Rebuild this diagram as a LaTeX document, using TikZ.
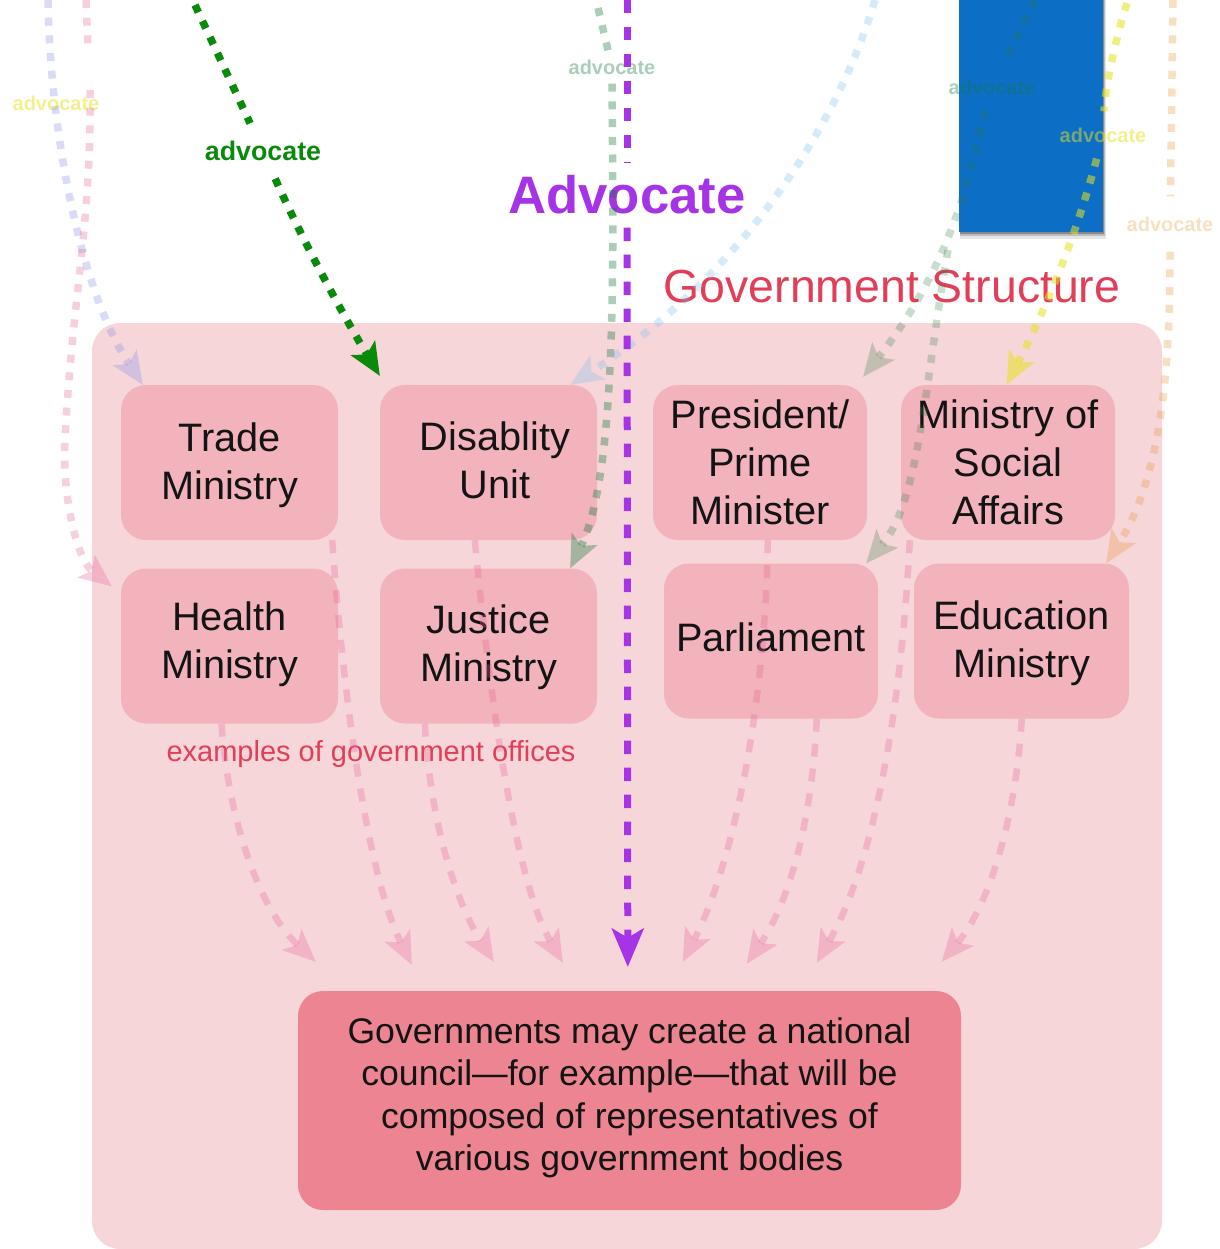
\documentclass[tikz,border=0pt]{standalone}
\usepackage{fontspec}
\setmainfont{Liberation Sans}
\usetikzlibrary{arrows.meta}
\definecolor{panelc}{HTML}{F7D6DA}
\definecolor{boxc}{HTML}{F2B3BC}
\definecolor{councilc}{HTML}{EC8591}
\definecolor{bluec}{HTML}{0D6EC6}
\definecolor{redtext}{HTML}{E23E57}
\definecolor{greenc}{HTML}{0A8A0A}
\definecolor{purplec}{HTML}{A633E6}
\definecolor{lavc}{RGB}{146,152,233}
\definecolor{pinkc}{RGB}{230,100,150}
\definecolor{sagec}{RGB}{20,120,60}
\definecolor{paleg}{RGB}{40,120,60}
\definecolor{skyc}{RGB}{120,190,235}
\definecolor{yellc}{RGB}{230,225,30}
\definecolor{peachc}{RGB}{230,150,50}
\newcommand{\lines}[2][0pt]{\vbox{\vskip#1\hbox{\begin{tabular}{@{}c@{}}#2\end{tabular}}}}
\tikzset{
  x=1pt,y=-1pt,
  panelbox/.style={fill=panelc,rounded corners=28pt,minimum width=1070pt,minimum height=926pt,inner sep=0pt},
  officebox/.style={fill=boxc,rounded corners=25pt,minimum width=217pt,minimum height=155pt,inner sep=0pt,text=black!92,font=\fontsize{39.7}{48}\selectfont},
  councilbox/.style={fill=councilc,rounded corners=25pt,minimum width=663pt,minimum height=219pt,inner sep=0pt,text=black!92,font=\fontsize{35.6}{42.5}\selectfont},
  tip/.style={-{Stealth[length=33pt,width=29pt,inset=8pt,line width=0pt]}},
  thinline/.style={line width=7.5pt,dash pattern=on 8pt off 9.7pt},
  wideline/.style={line width=6.5pt,dash pattern=on 13pt off 12pt},
  tolower/.style={wideline,tip,draw=pinkc,opacity=.3},
  advlabel/.style={font=\fontsize{20}{24}\selectfont\bfseries,inner sep=0pt},
  redlabel/.style={text=redtext,inner sep=0pt},
}
\begin{document}
\begin{tikzpicture}
\useasboundingbox (0,0) rectangle (1219,1249);
% panel and boxes
\node[panelbox] (panel) at (627,786) {};
\node[officebox] (trade) at (229.5,462.5) {\lines[6pt]{Trade\\Ministry}};
\node[officebox] (disability) at (488.5,462.5) {\hspace*{13pt}\lines[4pt]{Disablity\\Unit}};
\node[officebox,minimum width=214pt] (president) at (760,462.5) {\lines[8pt]{President/\\Prime\\Minister}};
\node[officebox,minimum width=214pt] (social) at (1008,462.5) {\lines[8pt]{Ministry of\\Social\\Affairs}};
\node[officebox] (health) at (229.5,646) {\lines{Health\\Ministry\\[3pt]}};
\node[officebox] (justice) at (488.5,646) {\lines[4pt]{Justice\\Ministry}};
\node[officebox,minimum width=214pt] (parliament) at (771,641) {\lines[2pt]{Parliament}};
\node[officebox,minimum width=215pt] (education) at (1021.5,641) {\lines[6pt]{Education\\Ministry}};
\node[councilbox] (council) at (629.5,1100.5) {\lines{Governments may create a national\\council—for example—that will be\\composed of representatives of\\various government bodies\\[4pt]}};
% blue block with its soft shadow
\fill[black,opacity=.10] (960,0) rectangle (1106,239);
\fill[black,opacity=.18] (960,0) rectangle (1105,236);
\fill[black,opacity=.28] (960,0) rectangle (1104,234);
\node[fill=bluec,minimum width=144pt,minimum height=232pt,inner sep=0pt] (bluebox) at (1031,116) {};
% texts
\node[redlabel,font=\fontsize{46.4}{56}\selectfont] (title) at (892,287) {Government Structure};
\node[redlabel,font=\fontsize{29}{34}\selectfont] (examples) at (371,754) {examples of government offices};
% labels that cut their connectors
\node[font=\fontsize{26.8}{32}\selectfont\bfseries,text=greenc,inner sep=0pt,minimum height=55pt] (lgreen) at (263,151) {advocate};
\node[font=\fontsize{52.7}{60}\selectfont\bfseries,text=purplec,inner sep=0pt,minimum height=65pt] (lpurple) at (627,195) {Advocate};
\node[advlabel,text=yellc,opacity=.5] (lyellowleft) at (56,103) {advocate};
\node[advlabel,text=sagec,opacity=.36,minimum height=33pt] (lsage) at (612,67) {advocate};
\node[advlabel,text=sagec,opacity=.36,minimum height=47pt] (lsagetwo) at (992,87) {advocate};
\node[advlabel,text=yellc,opacity=.5,minimum height=47pt] (lyellow) at (1103,135) {advocate};
\node[advlabel,text=peachc,opacity=.3,minimum height=55pt] (lpeach) at (1170,224) {advocate};
% free ends
\coordinate (slav) at (48,0);
\coordinate (spinka) at (86,0);
\coordinate (spinkb) at (88,47);
\coordinate (spinkc) at (90,90);
\coordinate (spinkd) at (65,440);
\coordinate (sgreen) at (195,5);
\coordinate (ssage) at (598,8);
\coordinate (spurple) at (627,0);
\coordinate (ssky) at (875,0);
\coordinate (ssagetwo) at (1035,0);
\coordinate (sbranch) at (948,250);
\coordinate (syellow) at (1127,3);
\coordinate (speach) at (1173,0);
% connectors into the offices
\draw[thinline,tip,draw=lavc,opacity=.35] (slav) .. controls (50,130) and (80,290) .. ([xshift=22pt]trade.north west);
\draw[thinline,draw=pinkc,opacity=.3] (spinka) -- (spinkb);
\draw[thinline,tip,draw=pinkc,opacity=.3] (spinkc) .. controls (92,220) and (72,300) .. (spinkd) .. controls (62,500) and (78,560) .. ([xshift=-9pt,yshift=-18pt]health.north west);
\draw[thinline,draw=greenc] (sgreen) -- (lgreen);
\draw[thinline,tip,draw=greenc] (lgreen) .. controls (300,235) and (340,310) .. ([yshift=9pt]disability.north west);
\draw[thinline,draw=sagec,opacity=.36] (ssage) -- (lsage);
\draw[thinline,tip,draw=sagec,opacity=.36] (lsage) .. controls (613,250) and (618,470) .. ([xshift=-27pt]justice.north east);
\draw[thinline,tip,draw=skyc,opacity=.3] (ssky) .. controls (830,150) and (720,290) .. ([xshift=-27pt]disability.north east);
\draw[thinline,draw=paleg,opacity=.25] (ssagetwo) -- (lsagetwo);
\draw[thinline,tip,draw=paleg,opacity=.25] (lsagetwo) .. controls (970,170) and (955,260) .. ([xshift=-4pt,yshift=8pt]president.north east);
\draw[thinline,tip,draw=paleg,opacity=.25] (sbranch) .. controls (925,380) and (920,500) .. ([xshift=-12pt]parliament.north east);
\draw[thinline,draw=yellc,opacity=.55] (syellow) .. controls (1115,40) and (1105,90) .. (lyellow);
\draw[thinline,tip,draw=yellc,opacity=.55] (lyellow) .. controls (1075,240) and (1045,310) .. ([xshift=106pt]social.north west);
\draw[thinline,draw=peachc,opacity=.3] (speach) -- (lpeach);
\draw[thinline,tip,draw=peachc,opacity=.3] (lpeach) .. controls (1170,350) and (1165,470) .. ([xshift=-23pt]education.north east);
% connectors towards the council
\draw[tolower] ([xshift=-8pt]health.south) .. controls (228,820) and (260,910) .. ([xshift=18pt,yshift=29pt]council.north west);
\draw[tolower] ([xshift=-6pt]trade.south east) .. controls (345,720) and (370,880) .. ([xshift=114pt,yshift=26pt]council.north west);
\draw[tolower] ([xshift=45pt]justice.south west) .. controls (430,820) and (455,900) .. ([xshift=196pt,yshift=29pt]council.north west);
\draw[tolower] ([xshift=95pt]disability.south west) .. controls (490,700) and (515,880) .. ([xshift=265pt,yshift=28pt]council.north west);
\draw[tolower] ([xshift=115pt]president.south west) .. controls (765,720) and (730,870) .. ([xshift=385pt,yshift=29pt]council.north west);
\draw[tolower] ([xshift=153pt]parliament.south west) .. controls (812,820) and (790,900) .. ([xshift=449pt,yshift=27pt]council.north west);
\draw[tolower] ([xshift=9pt]social.south west) .. controls (900,730) and (870,870) .. ([xshift=519pt,yshift=28pt]council.north west);
\draw[tolower] ([xshift=108pt]education.south west) .. controls (1015,830) and (985,910) .. ([xshift=644pt,yshift=29pt]council.north west);
% main purple connector
\draw[line width=7pt,dash pattern=on 13.5pt off 13.5pt,draw=purplec] (spurple) -- (lpurple);
\draw[line width=7pt,dash pattern=on 13.5pt off 13.5pt,draw=purplec,-{Stealth[length=39pt,width=33pt,inset=10pt,line width=0pt]}] (lpurple) -- ([xshift=330pt,yshift=24pt]council.north west);
\end{tikzpicture}
\end{document}
